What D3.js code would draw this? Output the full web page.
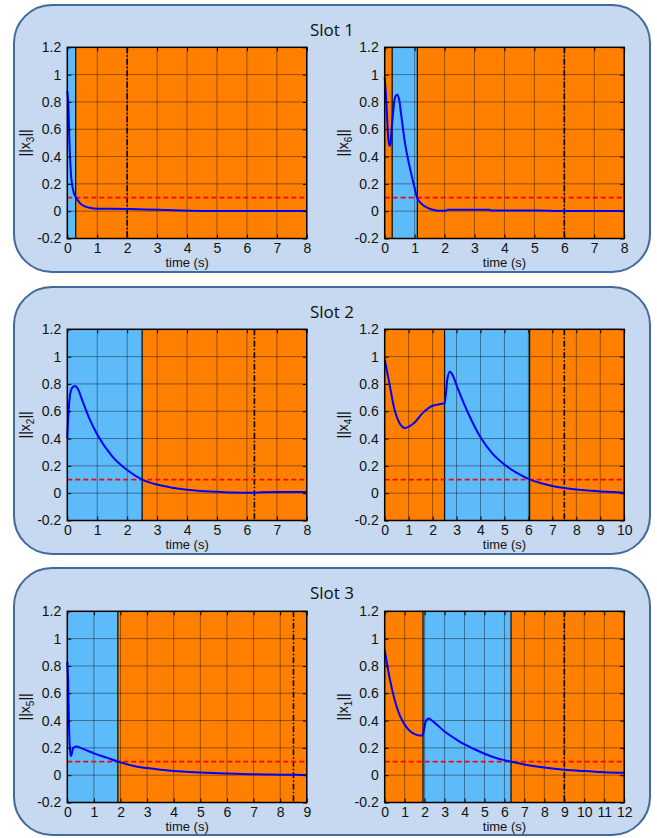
<!DOCTYPE html>
<html>
<head>
<meta charset="utf-8">
<script src="https://cdn.jsdelivr.net/npm/d3@7"></script>
<style>
  html, body { margin: 0; padding: 0; background: #ffffff; }
  svg { display: block; }
  text { font-family: "Liberation Sans", Arial, sans-serif; fill: #111; }
</style>
</head>
<body>
<svg id="chart" width="657" height="838"></svg>
<script>
// ---------------- DATA ----------------
const slotTitles = ["Slot 1", "Slot 2", "Slot 3"];
const stateNames = ["3", "6", "2", "4", "5", "1"];      // subscripts of ||x_i||
const xMaxes = [8, 8, 8, 10, 9, 12];
const yTicks = [-0.2, 0, 0.2, 0.4, 0.6, 0.8, 1, 1.2];
const yTickLabels = ["-0.2", "0", "0.2", "0.4", "0.6", "0.8", "1", "1.2"];
const threshold = 0.1;
const blueSpans = [[0, 0.28], [0.25, 1.09], [0, 2.5], [2.5, 6.05], [0, 1.9], [1.92, 6.33]];
const deadlines = [2, 6, 6.25, 7.5, 8.5, 9];

const x3Data = [[0,0.88],[0.03,0.8],[0.07,0.52],[0.12,0.28],[0.2,0.15],[0.29,0.1],[0.4,0.065],[0.5,0.045],[0.75,0.025],[1.0,0.018],[2.0,0.016],[2.6,0.013],[3.3,0.008],[4.5,0.002],[8,0.001]];
const x6Data = [[0,0.98],[0.06,0.78],[0.1,0.6],[0.13,0.51],[0.17,0.48],[0.2,0.51],[0.23,0.6],[0.28,0.72],[0.33,0.82],[0.41,0.853],[0.48,0.82],[0.56,0.69],[0.67,0.51],[0.78,0.38],[0.89,0.27],[1.0,0.17],[1.08,0.1],[1.25,0.05],[1.45,0.023],[1.65,0.008],[1.8,0.003],[2.05,0.003],[2.1,0.01],[3.5,0.01],[3.55,0.005],[5.5,0.004],[5.6,0.001],[8,0.001]];
const x2Data = [[0,0.4],[0.03,0.55],[0.07,0.68],[0.12,0.75],[0.2,0.78],[0.27,0.785],[0.35,0.765],[0.5,0.68],[0.75,0.54],[1.0,0.43],[1.5,0.27],[2.0,0.17],[2.5,0.1],[3.0,0.063],[3.5,0.04],[4,0.025],[4.5,0.016],[5,0.01],[5.5,0.005],[6.25,0.003],[6.5,0.006],[7,0.008],[8,0.008]];
const x4Data = [[0,0.98],[0.2,0.8],[0.4,0.62],[0.6,0.52],[0.85,0.478],[1.2,0.51],[1.6,0.59],[2.0,0.64],[2.4,0.655],[2.5,0.66],[2.55,0.72],[2.62,0.84],[2.72,0.89],[2.85,0.86],[3.0,0.79],[3.3,0.66],[3.5,0.58],[4,0.41],[4.5,0.29],[5,0.21],[5.5,0.15],[6,0.105],[6.5,0.075],[7,0.053],[7.5,0.038],[8,0.027],[8.5,0.019],[9,0.013],[9.5,0.008],[10,0.004]];
const x5Data = [[0,0.83],[0.03,0.7],[0.06,0.4],[0.09,0.22],[0.13,0.14],[0.17,0.16],[0.22,0.2],[0.35,0.21],[0.5,0.2],[0.75,0.18],[1,0.16],[1.5,0.127],[1.9,0.1],[2.5,0.068],[3,0.052],[3.5,0.04],[4,0.031],[5,0.02],[6,0.012],[7,0.006],[8,0.004],[8.5,0.003],[9,0.001]];
const x1Data = [[0,0.92],[0.25,0.71],[0.5,0.55],[0.75,0.44],[1,0.37],[1.25,0.325],[1.5,0.3],[1.75,0.29],[1.9,0.29],[1.95,0.32],[2.05,0.39],[2.2,0.415],[2.45,0.39],[3,0.32],[3.5,0.27],[4,0.225],[4.5,0.19],[5,0.157],[5.5,0.13],[6,0.11],[6.35,0.098],[7,0.078],[8,0.056],[9,0.04],[10,0.03],[11,0.022],[12,0.017]];
const seriesData = [x3Data, x6Data, x2Data, x4Data, x5Data, x1Data];

// ---------------- LAYOUT ----------------
const svg = d3.select("#chart");
const boxTops = [5, 287, 568];
const boxH = 267;
const plotTops = [47.3, 329.3, 611.3];
const plotLefts = [67.3, 384.7];
const plotW = 239.5, plotH = 191.2;
const titleY = [36, 317.5, 599];

const C_ORANGE = "#ff8000", C_BLUE = "#5ebbfa";

// slot boxes + titles
slotTitles.forEach((t, i) => {
  svg.append("rect")
    .attr("x", 14).attr("y", boxTops[i])
    .attr("width", 636).attr("height", boxH)
    .attr("rx", 38).attr("ry", 38)
    .attr("fill", "#c6d9f0").attr("stroke", "#41699a").attr("stroke-width", 2);
  svg.append("text")
    .attr("x", 332).attr("y", titleY[i])
    .attr("text-anchor", "middle")
    .style("font-family", "'Open Sans', 'Noto Sans', sans-serif")
    .style("font-size", "17px")
    .text(t);
});

// panels
seriesData.forEach((data, k) => {
  const row = Math.floor(k / 2), col = k % 2;
  const left = plotLefts[col], top = plotTops[row];
  const g = svg.append("g").attr("transform", `translate(${left},${top})`);
  const x = d3.scaleLinear().domain([0, xMaxes[k]]).range([0, plotW]);
  const y = d3.scaleLinear().domain([-0.2, 1.2]).range([plotH, 0]);
  const xTicks = d3.range(0, xMaxes[k] + 1, 1);

  // background orange
  g.append("rect").attr("x", 0).attr("y", 0).attr("width", plotW).attr("height", plotH).attr("fill", C_ORANGE);
  // blue span
  const sp = blueSpans[k];
  g.append("rect").attr("x", x(sp[0])).attr("y", 0)
    .attr("width", x(sp[1]) - x(sp[0])).attr("height", plotH).attr("fill", C_BLUE);

  // grid
  g.append("g").selectAll("line").data(xTicks.slice(1, -1)).join("line")
    .attr("x1", d => x(d)).attr("x2", d => x(d)).attr("y1", 0).attr("y2", plotH)
    .attr("stroke", "#000").attr("stroke-opacity", 0.4).attr("stroke-width", 1);
  g.append("g").selectAll("line").data(yTicks.slice(1, -1)).join("line")
    .attr("x1", 0).attr("x2", plotW).attr("y1", d => y(d)).attr("y2", d => y(d))
    .attr("stroke", "#000").attr("stroke-opacity", 0.4).attr("stroke-width", 1);

  // span boundary lines
  sp.forEach(v => {
    if (v > 0 && v < xMaxes[k]) {
      g.append("line").attr("x1", x(v)).attr("x2", x(v)).attr("y1", 0).attr("y2", plotH)
        .attr("stroke", "#111").attr("stroke-width", 1.3);
    }
  });

  // deadline dash-dot
  g.append("line").attr("x1", x(deadlines[k])).attr("x2", x(deadlines[k]))
    .attr("y1", 0).attr("y2", plotH)
    .attr("stroke", "#000").attr("stroke-width", 1.6).attr("stroke-dasharray", "6,2,1.5,2");

  // threshold
  g.append("line").attr("x1", 0).attr("x2", plotW).attr("y1", y(threshold)).attr("y2", y(threshold))
    .attr("stroke", "#ff0000").attr("stroke-width", 1.7).attr("stroke-dasharray", "5,3");

  // curve
  const line = d3.line().x(d => x(d[0])).y(d => y(d[1])).curve(d3.curveMonotoneX);
  g.append("path").datum(data).attr("d", line)
    .attr("fill", "none").attr("stroke", "#0000ff").attr("stroke-width", 2);

  // axes (inner ticks, MATLAB style)
  const fs = "14px";
  const xAxisB = d3.axisBottom(x).tickValues(xTicks).tickSizeInner(-4).tickSizeOuter(0).tickPadding(5).tickFormat(d3.format("d"));
  const xAxisT = d3.axisTop(x).tickValues(xTicks).tickSizeInner(-4).tickSizeOuter(0).tickFormat("");
  const yAxisL = d3.axisLeft(y).tickValues(yTicks).tickSizeInner(-4).tickSizeOuter(0).tickPadding(6)
    .tickFormat((d, i) => yTickLabels[i]);
  const yAxisR = d3.axisRight(y).tickValues(yTicks).tickSizeInner(-4).tickSizeOuter(0).tickFormat("");

  const gb = g.append("g").attr("transform", `translate(0,${plotH})`).call(xAxisB);
  const gt = g.append("g").call(xAxisT);
  const gl = g.append("g").call(yAxisL);
  const gr = g.append("g").attr("transform", `translate(${plotW},0)`).call(yAxisR);
  [gb, gt, gl, gr].forEach(a => {
    a.select(".domain").remove();
    a.selectAll("line").attr("stroke", "#000").attr("stroke-width", 1);
    a.selectAll("text").style("font-size", fs).style("font-family", "'Liberation Sans', Arial, sans-serif").attr("fill", "#111");
  });

  // frame
  g.append("rect").attr("x", 0).attr("y", 0).attr("width", plotW).attr("height", plotH)
    .attr("fill", "none").attr("stroke", "#000").attr("stroke-width", 1.5);

  // x label
  g.append("text").attr("x", plotW / 2).attr("y", plotH + 28.5)
    .attr("text-anchor", "middle").style("font-size", "13px").text("time (s)");

  // y label ||x_i||
  const yl = g.append("text")
    .attr("transform", `translate(-37,${plotH / 2}) rotate(-90)`)
    .attr("text-anchor", "middle").style("font-size", "14px");
  yl.append("tspan").text("||x");
  yl.append("tspan").attr("dy", 4).style("font-size", "10px").text(stateNames[k]);
  yl.append("tspan").attr("dy", -4).text("||");
});
</script>
</body>
</html>
